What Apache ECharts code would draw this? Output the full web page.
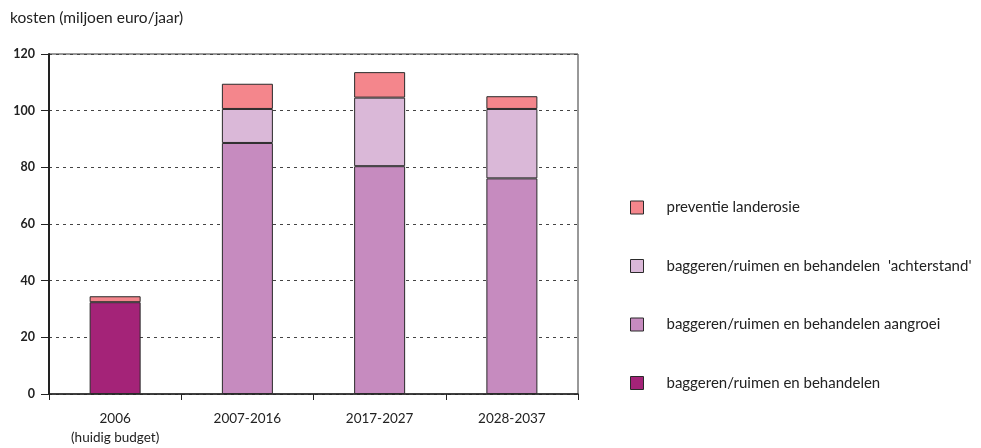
<!DOCTYPE html>
<html>
<head>
<meta charset="utf-8">
<script src="https://cdn.jsdelivr.net/npm/echarts@6/dist/echarts.min.js"></script>
<style>html,body{margin:0;padding:0;background:#fff}#c{width:981px;height:448px}</style>
</head>
<body>
<div id="c"></div>
<script>
const categories = ['2006\n(huidig budget)', '2007-2016', '2017-2027', '2028-2037'];
const behandelen = [32.4, '-', '-', '-'];
const aangroei = ['-', 88.6, 80.4, 76.1];
const achterstand = ['-', 12.0, 24.2, 24.5];
const preventie = [2.1, 8.9, 9.0, 4.5];
const yTicks = [0, 20, 40, 60, 80, 100, 120];

const FONT = 'Lato, "Open Sans", sans-serif';
const border = { borderColor: '#2a2a2a', borderWidth: 1 };

function bar(name, data, color) {
  return {
    name, type: 'bar', stack: 'total', data,
    barWidth: 51,
    itemStyle: Object.assign({ color }, border),
    emphasis: { disabled: true }
  };
}

const chart = echarts.init(document.getElementById('c'), null, { renderer: 'canvas' });
chart.setOption({
  animation: false,
  textStyle: { fontFamily: FONT },
  title: {
    text: 'kosten (miljoen euro/jaar)', left: 5, top: 5,
    textStyle: { fontFamily: FONT, fontSize: 15.5, fontWeight: 'normal', color: '#222' }
  },
  grid: { left: 49, right: 403, top: 54, bottom: 54, show: true, borderColor: '#333', borderWidth: 1 },
  legend: {
    orient: 'vertical', left: 625, top: 195,
    itemWidth: 13, itemHeight: 13, itemGap: 43.5,
    icon: 'rect',
    data: ['preventie landerosie', "baggeren/ruimen en behandelen  'achterstand'", 'baggeren/ruimen en behandelen aangroei', 'baggeren/ruimen en behandelen'],
    itemStyle: { borderColor: '#2a2a2a', borderWidth: 1 },
    textStyle: { fontFamily: FONT, fontSize: 15, color: '#222', padding: [0, 0, 0, 18] }
  },
  xAxis: {
    type: 'category', data: categories,
    axisLine: { lineStyle: { color: '#222', width: 1.5 } },
    axisTick: { show: true, length: 6, lineStyle: { color: '#222', width: 1 } },
    axisLabel: { fontFamily: FONT, fontSize: 13.5, color: '#222', margin: 15, lineHeight: 19 },
    splitLine: { show: false }
  },
  yAxis: {
    type: 'value', min: 0, max: 120, interval: 20,
    axisLine: { show: true, lineStyle: { color: '#222', width: 2 } },
    axisTick: { show: true, length: 8, lineStyle: { color: '#222' } },
    axisLabel: { fontFamily: FONT, fontSize: 12.5, color: '#222', margin: 14, fontWeight: 'bold',
      formatter: v => yTicks.includes(v) ? String(v) : '' },
    splitLine: { show: true, lineStyle: { color: '#444', type: [3, 4], width: 1 } }
  },
  series: [
    bar('baggeren/ruimen en behandelen', behandelen, '#a42378'),
    bar('baggeren/ruimen en behandelen aangroei', aangroei, '#c68bbf'),
    bar("baggeren/ruimen en behandelen  'achterstand'", achterstand, '#dab8d8'),
    bar('preventie landerosie', preventie, '#f4868c')
  ]
});
</script>
</body>
</html>
